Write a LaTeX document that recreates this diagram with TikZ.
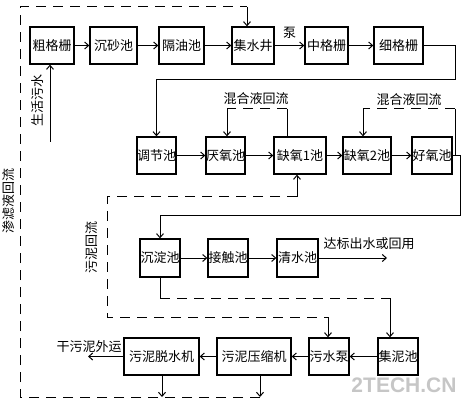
\documentclass[tikz,border=0pt]{standalone}
\usepackage{fontspec}
\newfontfamily\cjkfont{Noto Sans CJK SC}
\setsansfont{Liberation Sans}
\usetikzlibrary{arrows.meta}
\tikzset{
  unit/.style={draw, line width=1.3pt, inner sep=0pt, minimum height=37pt,
    font=\cjkfont\fontsize{13}{15}\selectfont},
  lbl/.style={inner sep=0pt, font=\cjkfont\fontsize{13}{15}\selectfont},
  flow/.style={line width=1pt, -{Straight Barb[length=4pt,width=7pt]}},
  pipe/.style={line width=1pt},
  back/.style={line width=1pt, dash pattern=on 10pt off 7pt},
}
\begin{document}
\begin{tikzpicture}[x=1pt,y=-1pt]
  \useasboundingbox (0,0) rectangle (469,409);
  \node[unit, minimum width=44pt] (cgs) at (52,45.5) {粗格栅};
  \node[unit, minimum width=47pt] (csc) at (113.5,45.5) {沉砂池};
  \node[unit, minimum width=45pt] (gyc) at (181.5,45.5) {隔油池};
  \node[unit, minimum width=42pt] (jsj) at (253,45.5) {集水井};
  \node[unit, minimum width=43pt] (zgs) at (326.5,45.5) {中格栅};
  \node[unit, minimum width=49pt] (xgs) at (398.5,45.5) {细格栅};
  \node[unit, minimum width=39pt] (tjc) at (156.5,155.5) {调节池};
  \node[unit, minimum width=39pt] (yyc) at (225.5,155.5) {厌氧池};
  \node[unit, minimum width=52pt] (qy1) at (300,155.5) {缺氧1池};
  \node[unit, minimum width=48pt] (qy2) at (367,155.5) {缺氧2池};
  \node[unit, minimum width=40pt] (hyc) at (432,155.5) {好氧池};
  \node[unit, minimum width=40pt, minimum height=38pt] (cdc) at (160,258) {沉淀池};
  \node[unit, minimum width=40pt, minimum height=38pt] (jcc) at (228,258) {接触池};
  \node[unit, minimum width=41pt, minimum height=38pt] (qsc) at (297.5,258) {清水池};
  \node[unit, minimum width=75pt] (tsj) at (161.5,356.5) {污泥脱水机};
  \node[unit, minimum width=74pt] (ysj) at (254,356.5) {污泥压缩机};
  \node[unit, minimum width=40pt] (wsb) at (329,356.5) {污水泵};
  \node[unit, minimum width=40pt] (jnc) at (398,356.5) {集泥池};

  \coordinate (w1) at (50,142);
  \coordinate (r1) at (455,80);
  \coordinate (m1) at (287,109);
  \coordinate (m2) at (227,109);
  \coordinate (m3) at (455,109);
  \coordinate (m4) at (363,109);
  \coordinate (h1) at (460,216);
  \coordinate (s1) at (297,197);
  \coordinate (s2) at (107,197);
  \coordinate (s3) at (107,317);
  \coordinate (s4) at (328,317);
  \coordinate (d1) at (387,258);
  \coordinate (n1) at (160,298);
  \coordinate (n2) at (390,298);
  \coordinate (g1) at (88,356.5);
  \coordinate (b1) at (162,397);
  \coordinate (b2) at (260,397);
  \coordinate (b3) at (20,397);
  \coordinate (b4) at (20,7);
  \coordinate (b5) at (247,7);

  \draw[flow] (w1) -- (cgs.south -| w1);
  \node[lbl, rotate=90] (shws) at (38,101) {生活污水};
  \draw[flow] (cgs) -- (csc);
  \draw[flow] (csc) -- (gyc);
  \draw[flow] (gyc) -- (jsj);
  \draw[flow] (jsj) -- node[lbl, above=6pt] (beng) {泵} (zgs);
  \draw[flow] (zgs) -- (xgs);
  \draw[flow] (xgs.east) -| (r1) -| (tjc.north);

  \draw[flow] (tjc) -- (yyc);
  \draw[flow] (yyc) -- (qy1);
  \draw[flow] (qy1) -- (qy2);
  \draw[flow] (qy2) -- (hyc);
  \draw[pipe] (qy1.north -| m1) -- (m1);
  \draw[back] (m1) -- (m2);
  \draw[flow] (m2) -- (yyc.north -| m2);
  \node[lbl] (hhl1) at (256,99) {混合液回流};
  \draw[pipe] (hyc.east -| m3) -- (m3);
  \draw[back] (m3) -- (m4);
  \draw[flow] (m4) -- (qy2.north -| m4);
  \node[lbl] (hhl2) at (409,100) {混合液回流};
  \draw[flow] (hyc.east) -| (h1) -| (cdc.north);

  \draw[flow] (s1) -- (qy1.south -| s1);
  \draw[back] (s1) -- (s2) -- (s3) -- (s4);
  \draw[flow] (s4) -- (wsb.north -| s4);
  \node[lbl, rotate=90] (wnhl) at (92,247) {污泥回流};

  \draw[flow] (cdc) -- (jcc);
  \draw[flow] (jcc) -- (qsc);
  \draw[flow] (qsc) -- (d1);
  \node[lbl] (dbcs) at (369,244) {达标出水或回用};
  \draw[pipe] (cdc.south) -- (n1);
  \draw[back] (n1) -- (n2);
  \draw[flow] (n2) -- (jnc.north -| n2);

  \draw[flow] (jnc) -- (wsb);
  \draw[flow] (wsb) -- (ysj);
  \draw[flow] (ysj) -- (tsj);
  \draw[flow] (tsj) -- (g1);
  \node[lbl] (gwn) at (89,347) {干污泥外运};
  \draw[flow] (tsj.south -| b1) -- (b1);
  \draw[flow] (ysj.south -| b2) -- (b2);
  \draw[back] (b2) -- (b3) -- (b4) -- (b5);
  \draw[flow] (b5) -- (jsj.north -| b5);
  \node[lbl, rotate=90] (slhl) at (9,201) {渗滤液回流};

  \node[font=\sffamily\bfseries\fontsize{21}{21}\selectfont, text=gray!45] (wm) at (404,385.5) {2TECH.CN};
\end{tikzpicture}
\end{document}
